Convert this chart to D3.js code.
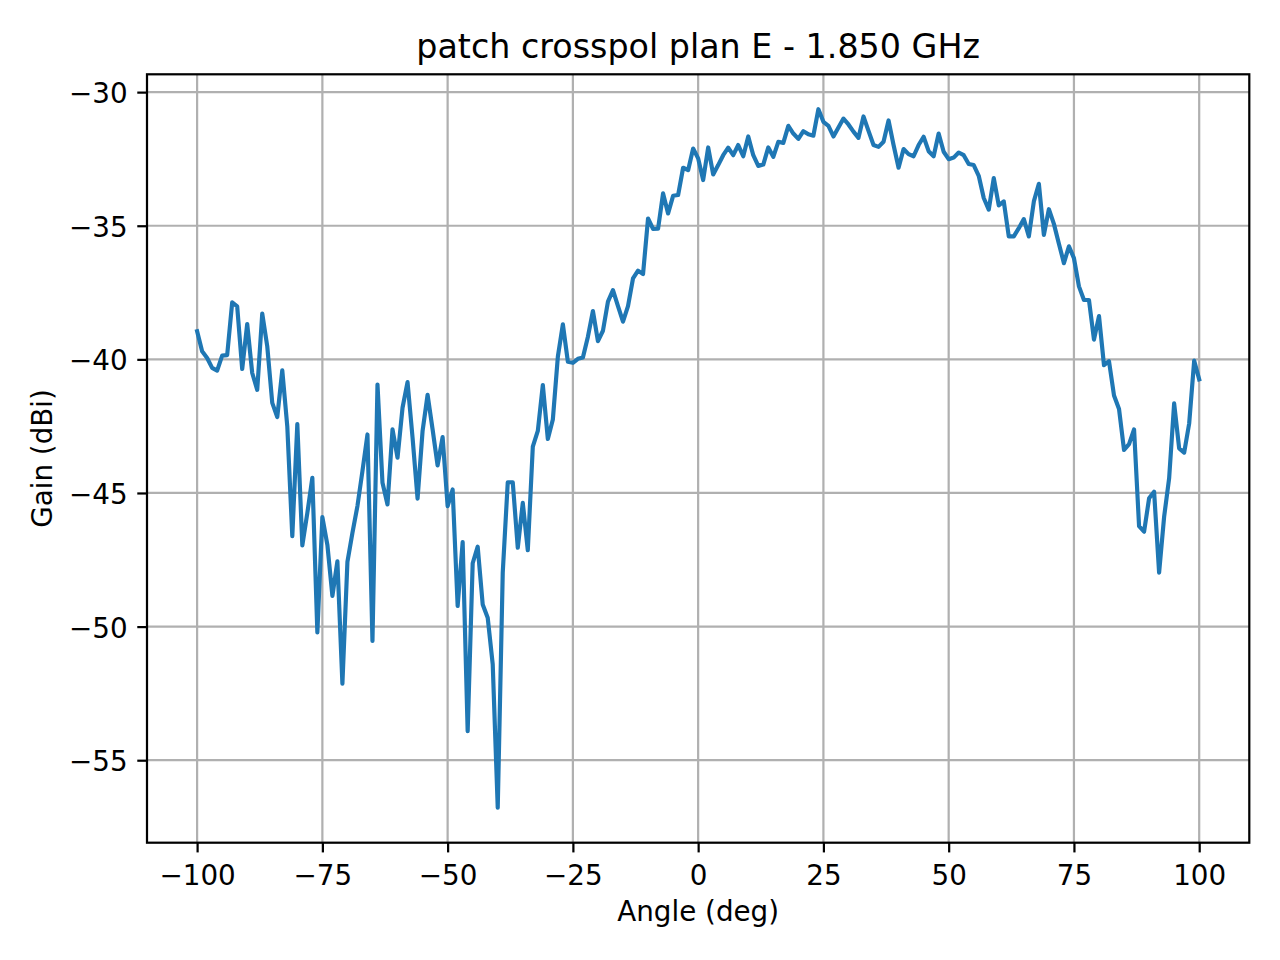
<!DOCTYPE html>
<html>
<head>
<meta charset="utf-8">
<script src="https://cdn.jsdelivr.net/npm/d3@7"></script>
<style>
	html, body { margin: 0; padding: 0; background: #fff; }
	svg text { font-family: "DejaVu Sans", sans-serif; fill: #000; }
</style>
</head>
<body>
<div id="chart"></div>
<script>

// angle (deg), one measure per degree
const angles = [
	-100, -99, -98, -97, -96, -95, -94, -93, -92, -91,
	-90, -89, -88, -87, -86, -85, -84, -83, -82, -81,
	-80, -79, -78, -77, -76, -75, -74, -73, -72, -71,
	-70, -69, -68, -67, -66, -65, -64, -63, -62, -61,
	-60, -59, -58, -57, -56, -55, -54, -53, -52, -51,
	-50, -49, -48, -47, -46, -45, -44, -43, -42, -41,
	-40, -39, -38, -37, -36, -35, -34, -33, -32, -31,
	-30, -29, -28, -27, -26, -25, -24, -23, -22, -21,
	-20, -19, -18, -17, -16, -15, -14, -13, -12, -11,
	-10, -9, -8, -7, -6, -5, -4, -3, -2, -1,
	0, 1, 2, 3, 4, 5, 6, 7, 8, 9,
	10, 11, 12, 13, 14, 15, 16, 17, 18, 19,
	20, 21, 22, 23, 24, 25, 26, 27, 28, 29,
	30, 31, 32, 33, 34, 35, 36, 37, 38, 39,
	40, 41, 42, 43, 44, 45, 46, 47, 48, 49,
	50, 51, 52, 53, 54, 55, 56, 57, 58, 59,
	60, 61, 62, 63, 64, 65, 66, 67, 68, 69,
	70, 71, 72, 73, 74, 75, 76, 77, 78, 79,
	80, 81, 82, 83, 84, 85, 86, 87, 88, 89,
	90, 91, 92, 93, 94, 95, 96, 97, 98, 99,
	100
];

// gain (dBi), crosspol, plan E
const gains = [
	-38.95, -39.70, -39.95, -40.32, -40.42, -39.86, -39.84, -37.87, -38.02, -40.36,
	-38.68, -40.51, -41.14, -38.29, -39.51, -41.63, -42.16, -40.41, -42.51, -46.62,
	-42.42, -46.96, -45.75, -44.43, -50.22, -45.90, -46.94, -48.85, -47.56, -52.14,
	-47.58, -46.49, -45.49, -44.18, -42.81, -50.54, -40.94, -44.62, -45.43, -42.62,
	-43.68, -41.81, -40.85, -42.93, -45.21, -42.68, -41.33, -42.62, -43.97, -42.91,
	-45.49, -44.87, -49.23, -46.84, -53.91, -47.63, -47.01, -49.17, -49.67, -51.41,
	-56.78, -47.98, -44.60, -44.60, -47.05, -45.37, -47.14, -43.27, -42.68, -40.96,
	-42.98, -42.25, -39.90, -38.69, -40.09, -40.13, -39.98, -39.93, -39.15, -38.19,
	-39.32, -38.93, -37.84, -37.41, -38.01, -38.59, -38.01, -36.97, -36.68, -36.81,
	-34.73, -35.12, -35.11, -33.79, -34.54, -33.88, -33.85, -32.83, -32.92, -32.11,
	-32.48, -33.29, -32.07, -33.08, -32.73, -32.36, -32.08, -32.36, -31.98, -32.40,
	-31.66, -32.36, -32.76, -32.71, -32.07, -32.42, -31.86, -31.90, -31.26, -31.55,
	-31.75, -31.46, -31.58, -31.63, -30.64, -31.11, -31.26, -31.66, -31.32, -30.99,
	-31.21, -31.48, -31.71, -30.91, -31.45, -31.98, -32.05, -31.86, -31.06, -31.98,
	-32.83, -32.13, -32.32, -32.40, -31.98, -31.67, -32.21, -32.40, -31.55, -32.23,
	-32.51, -32.45, -32.26, -32.36, -32.69, -32.73, -33.13, -33.96, -34.40, -33.22,
	-34.24, -34.09, -35.40, -35.40, -35.09, -34.75, -35.40, -34.09, -33.43, -35.34,
	-34.38, -34.93, -35.67, -36.40, -35.77, -36.21, -37.27, -37.78, -37.78, -39.26,
	-38.38, -40.22, -40.07, -41.35, -41.86, -43.39, -43.17, -42.62, -46.24, -46.45,
	-45.20, -44.95, -47.98, -45.89, -44.45, -41.65, -43.33, -43.49, -42.40, -40.05,
	-40.75
];

const xTicks = [-100, -75, -50, -25, 0, 25, 50, 75, 100];
const yTicks = [-55, -50, -45, -40, -35, -30];

const titleText = "patch crosspol plan E - 1.850 GHz";
const xLabel = "Angle (deg)";
const yLabel = "Gain (dBi)";


function drawChart(){

	const width = 1280;
	const height = 960;

	// axes box in pixels (matplotlib look, 200 dpi)
	const margin = {top: 74.3, right: 30.7, bottom: 117.3, left: 147};
	const innerW = width - margin.left - margin.right;
	const innerH = height - margin.top - margin.bottom;

	const pt = 200 / 72;
	const fontSize = 10 * pt;

	let svg = d3.select("#chart")
		.append("svg")
		.attr("width", width)
		.attr("height", height);

	let g = svg.append("g")
		.attr("transform", "translate(" + margin.left + "," + margin.top + ")");

	// 5% margins on y like matplotlib autoscale
	let yMin = d3.min(gains);
	let yMax = d3.max(gains);
	let yPad = (yMax - yMin) * 0.05;

	let x = d3.scaleLinear()
		.domain([-110, 110])
		.range([0, innerW]);

	let y = d3.scaleLinear()
		.domain([yMin - yPad, yMax + yPad])
		.range([innerH, 0]);

	//Grid
	let grid = g.append("g")
		.attr("class", "grid");

	grid.selectAll(".vgrid")
		.data(xTicks)
		.enter()
		.append("line")
		.attr("x1", d => x(d))
		.attr("x2", d => x(d))
		.attr("y1", 0)
		.attr("y2", innerH)
		.attr("stroke", "#b0b0b0")
		.attr("stroke-width", 0.8 * pt);

	grid.selectAll(".hgrid")
		.data(yTicks)
		.enter()
		.append("line")
		.attr("x1", 0)
		.attr("x2", innerW)
		.attr("y1", d => y(d))
		.attr("y2", d => y(d))
		.attr("stroke", "#b0b0b0")
		.attr("stroke-width", 0.8 * pt);

	//Data line
	let points = angles.map((a, i) => [a, gains[i]]);

	let line = d3.line()
		.x(d => x(d[0]))
		.y(d => y(d[1]));

	g.append("path")
		.datum(points)
		.attr("d", line)
		.attr("fill", "none")
		.attr("stroke", "#1f77b4")
		.attr("stroke-width", 1.5 * pt)
		.attr("stroke-linejoin", "round")
		.attr("stroke-linecap", "square");

	//Axes
	let xAxis = g.append("g")
		.attr("transform", "translate(0," + innerH + ")")
		.call(d3.axisBottom(x)
			.tickValues(xTicks)
			.tickSizeOuter(0)
			.tickSize(3.5 * pt)
			.tickPadding(3.5 * pt));

	xAxis.select(".domain").remove();
	xAxis.selectAll(".tick line")
		.attr("stroke", "#000")
		.attr("stroke-width", 0.8 * pt);
	xAxis.selectAll(".tick text")
		.attr("font-family", "DejaVu Sans")
		.attr("font-size", fontSize)
		.attr("fill", "#000")
		.attr("dy", "0.82em");

	let yAxis = g.append("g")
		.call(d3.axisLeft(y)
			.tickValues(yTicks)
			.tickSizeOuter(0)
			.tickSize(3.5 * pt)
			.tickPadding(3.5 * pt));

	yAxis.select(".domain").remove();
	yAxis.selectAll(".tick line")
		.attr("stroke", "#000")
		.attr("stroke-width", 0.8 * pt);
	yAxis.selectAll(".tick text")
		.attr("font-family", "DejaVu Sans")
		.attr("font-size", fontSize)
		.attr("fill", "#000")
		.attr("dy", "0.38em");

	//Spines
	g.append("rect")
		.attr("x", 0)
		.attr("y", 0)
		.attr("width", innerW)
		.attr("height", innerH)
		.attr("fill", "none")
		.attr("stroke", "#000")
		.attr("stroke-width", 0.8 * pt);

	//Labels
	svg.append("text")
		.attr("x", margin.left + innerW / 2)
		.attr("y", 57.6)
		.attr("text-anchor", "middle")
		.attr("font-size", 12 * pt)
		.text(titleText);

	svg.append("text")
		.attr("x", margin.left + innerW / 2)
		.attr("y", 921)
		.attr("text-anchor", "middle")
		.attr("font-size", fontSize)
		.text(xLabel);

	svg.append("text")
		.attr("transform", "translate(52," + (margin.top + innerH / 2) + ") rotate(-90)")
		.attr("text-anchor", "middle")
		.attr("font-size", fontSize)
		.text(yLabel);

} //drawChart

drawChart();
</script>
</body>
</html>
